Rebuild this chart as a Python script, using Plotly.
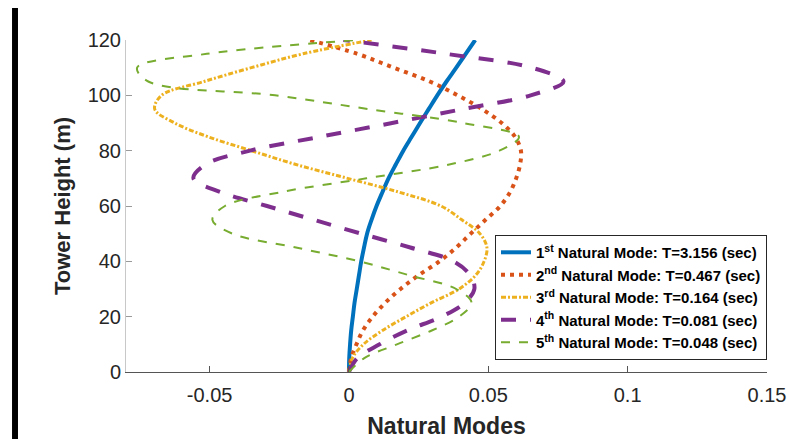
import plotly.graph_objects as go

# Tower heights (m) at which the mode shapes are sampled
heights = [0, 5, 10, 15, 20, 25, 30, 35, 40, 45, 50, 55, 60,
           65, 70, 75, 80, 85, 90, 95, 100, 105, 110, 115, 120]

mode1 = [0, 0.0001, 0.0004, 0.0008, 0.0014, 0.0020, 0.0028, 0.0036, 0.0044, 0.0054,
         0.0065, 0.0081, 0.0099, 0.0120, 0.0142, 0.0168, 0.0195, 0.0225, 0.0255,
         0.0286, 0.0317, 0.0350, 0.0385, 0.0419, 0.0453]
mode2 = [0, 0.0008, 0.0027, 0.0050, 0.0085, 0.0130, 0.0185, 0.0250, 0.0325, 0.0385,
         0.0437, 0.0490, 0.0543, 0.0578, 0.0600, 0.0614, 0.0617, 0.0596, 0.0548,
         0.0478, 0.0390, 0.0290, 0.0160, 0.0030, -0.0142]
mode3 = [0, 0.0012, 0.0052, 0.0120, 0.0205, 0.0295, 0.0395, 0.0455, 0.0485, 0.0495,
         0.0470, 0.0405, 0.0330, 0.0180, -0.0005, -0.0190, -0.0350, -0.0505, -0.0625,
         -0.0697, -0.0672, -0.0520, -0.0350, -0.0165, 0.0081]
mode4 = [0, 0.0030, 0.0110, 0.0208, 0.0332, 0.0415, 0.0450, 0.0435, 0.0375, 0.0220,
         0.0044, -0.0126, -0.0294, -0.0460, -0.0558, -0.0515, -0.0355, -0.0105, 0.0155,
         0.0407, 0.0652, 0.0770, 0.0656, 0.0348, -0.0020]
mode5 = [0, 0.0055, 0.0172, 0.0297, 0.0395, 0.0440, 0.0385, 0.0215, 0.0037, -0.0190,
         -0.0418, -0.0490, -0.0445, -0.0245, 0.0063, 0.0360, 0.0540, 0.0610, 0.0410,
         0.0072, -0.0265, -0.0720, -0.0760, -0.0510, 0.0030]

mode_names = [
    "1<sup>st</sup> Natural Mode: T=3.156 (sec)",
    "2<sup>nd</sup> Natural Mode: T=0.467 (sec)",
    "3<sup>rd</sup> Natural Mode: T=0.164 (sec)",
    "4<sup>th</sup> Natural Mode: T=0.081 (sec)",
    "5<sup>th</sup> Natural Mode: T=0.048 (sec)",
]

x_ticks = [-0.05, 0, 0.05, 0.1, 0.15]
x_tick_text = ["-0.05", "0", "0.05", "0.1", "0.15"]
y_ticks = [0, 20, 40, 60, 80, 100, 120]

styles = [
    dict(color="#0072BD", width=4, dash="solid"),
    dict(color="#D95319", width=4, dash="4px,5px"),
    dict(color="#EDB120", width=3, dash="5px,2px,2px,2px"),
    dict(color="#7E2F8E", width=4, dash="15px,14px"),
    dict(color="#77AC30", width=2, dash="9px,9px"),
]

fig = go.Figure()
for name, vals, st in zip(mode_names, [mode1, mode2, mode3, mode4, mode5], styles):
    fig.add_trace(go.Scatter(
        x=vals, y=heights, mode="lines", name="<b>" + name + "</b>",
        line=dict(color=st["color"], width=st["width"], dash=st["dash"],
                  shape="spline", smoothing=1.0),
    ))

font_family = "Liberation Sans, Arial, sans-serif"
tick_font = dict(family=font_family, size=20, color="#262626")

fig.update_layout(
    width=789, height=439,
    margin=dict(l=126, r=22, t=40, b=67),
    paper_bgcolor="white", plot_bgcolor="white",
    showlegend=True,
    legend=dict(
        x=1.0, y=0.036, xanchor="right", yanchor="bottom",
        bgcolor="white", bordercolor="#262626", borderwidth=1,
        font=dict(family=font_family, size=15, color="#000000"),
        itemwidth=30, tracegroupgap=0,
    ),
    xaxis=dict(
        range=[-0.08, 0.15], tickvals=x_ticks, ticktext=x_tick_text,
        showgrid=False, zeroline=False, showline=True, linecolor="#555555", linewidth=1,
        ticks="inside", ticklen=6, tickcolor="#555555", tickfont=tick_font,
        ticklabelstandoff=5, automargin=False,
        title=dict(text="<b>Natural Modes</b>",
                   font=dict(family=font_family, size=23, color="#262626"), standoff=12),
    ),
    yaxis=dict(
        range=[0, 120], tickvals=y_ticks,
        showgrid=False, zeroline=False, showline=True, linecolor="#c8c8c8", linewidth=1,
        ticks="inside", ticklen=6, tickcolor="#9a9a9a", tickfont=tick_font,
        automargin=False,
        title=dict(text="<b>Tower Height (m)</b>",
                   font=dict(family=font_family, size=22, color="#262626"), standoff=10),
    ),
    shapes=[dict(
        type="rect", xref="paper", yref="paper",
        x0=-0.1778, x1=-0.1685, y0=-0.21, y1=1.0964,
        fillcolor="black", line=dict(width=0), layer="above",
    )],
)

fig.write_html("out.html")
